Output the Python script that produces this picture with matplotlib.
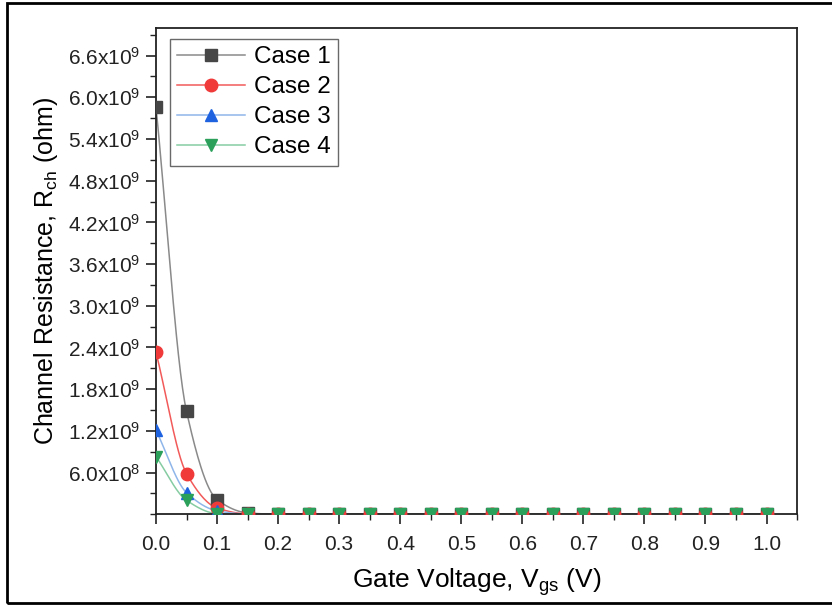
import numpy as np
import matplotlib.pyplot as plt
from matplotlib.ticker import MultipleLocator, FuncFormatter
from matplotlib.patches import Rectangle

plt.rcParams['font.family'] = ['Liberation Sans', 'DejaVu Sans']
plt.rcParams['mathtext.fontset'] = 'custom'
plt.rcParams['mathtext.rm'] = 'Liberation Sans'
plt.rcParams['mathtext.it'] = 'Liberation Sans'

vgs = [0.0, 0.05, 0.1, 0.15, 0.2, 0.25, 0.3, 0.35, 0.4, 0.45, 0.5,
       0.55, 0.6, 0.65, 0.7, 0.75, 0.8, 0.85, 0.9, 0.95, 1.0]
tail = [0.0] * 17
case1 = [5.86e9, 1.48e9, 0.21e9, 0.02e9] + tail
case2 = [2.33e9, 0.585e9, 0.09e9, 0.005e9] + tail
case3 = [1.21e9, 0.31e9, 0.05e9, 0.003e9] + tail
case4 = [0.83e9, 0.20e9, 0.01e9, 0.001e9] + tail

labels = ['Case 1', 'Case 2', 'Case 3', 'Case 4']
markers = ['s', 'o', '^', 'v']
mcolors = ['#464646', '#f03a3a', '#1f62e0', '#2ba05a']
lcolors = ['#8a8a8a', '#f25a5a', '#8fb6ea', '#86cca2']


def pchip(x, y, xs):
    # monotone cubic Hermite curve through the points
    x = np.asarray(x, float)
    y = np.asarray(y, float)
    h = np.diff(x)
    d = np.diff(y) / h
    m = np.zeros_like(y)
    for k in range(1, len(y) - 1):
        if d[k - 1] * d[k] > 0:
            w1 = 2 * h[k] + h[k - 1]
            w2 = h[k] + 2 * h[k - 1]
            m[k] = (w1 + w2) / (w1 / d[k - 1] + w2 / d[k])
    m[0] = d[0]
    m[-1] = d[-1]
    idx = np.clip(np.searchsorted(x, xs) - 1, 0, len(h) - 1)
    t = (xs - x[idx]) / h[idx]
    h00 = 2 * t**3 - 3 * t**2 + 1
    h10 = t**3 - 2 * t**2 + t
    h01 = -2 * t**3 + 3 * t**2
    h11 = t**3 - t**2
    return (h00 * y[idx] + h10 * h[idx] * m[idx]
            + h01 * y[idx + 1] + h11 * h[idx] * m[idx + 1])


fig = plt.figure(figsize=(8.32, 6.05), dpi=100)
ax = fig.add_axes([0.1875, 0.150, 0.7705, 0.804])

xs = np.linspace(0, 1, 600)
for ys, lab, mk, mc, lc in zip([case1, case2, case3, case4], labels,
                                markers, mcolors, lcolors):
    ax.plot(xs, pchip(vgs, ys, xs), color=lc, lw=1.1, zorder=2)
    ax.plot(vgs, ys, linestyle='none', marker=mk, color=mc, ms=9, zorder=3)
    ax.plot([], [], color=lc, lw=1.1, marker=mk, mfc=mc, mec=mc, ms=9,
            label=lab)

ax.set_xlim(0, 1.05)
ax.set_ylim(0, 7.0e9)
ax.xaxis.set_major_locator(MultipleLocator(0.1))
ax.xaxis.set_minor_locator(MultipleLocator(0.05))
ax.set_yticks([0.6e9 * k for k in range(1, 12)])
ax.yaxis.set_minor_locator(MultipleLocator(0.3e9))


def sci(v, pos):
    if v == 0:
        return ''
    e = int(np.floor(np.log10(v) + 1e-9))
    return '{:.1f}x10$^{{{}}}$'.format(v / 10**e, e)


ax.yaxis.set_major_formatter(FuncFormatter(sci))
ax.xaxis.set_major_formatter(FuncFormatter(lambda v, p: '{:.1f}'.format(v)))
ax.tick_params(which='major', direction='out', length=7, width=1.2,
               labelsize=15, colors='#222222')
ax.tick_params(which='minor', direction='out', length=4, width=1.0,
               colors='#222222')
ax.tick_params(axis='x', pad=8)
ax.tick_params(axis='y', pad=4)
for s in ax.spines.values():
    s.set_linewidth(1.3)
    s.set_color('#222222')

ax.set_xlabel('Gate Voltage, V$_{gs}$ (V)', fontsize=19, labelpad=9)
ax.set_ylabel('Channel Resistance, R$_{ch}$ (ohm)', fontsize=18,
              labelpad=6)

leg = ax.legend(loc='upper left', bbox_to_anchor=(0.022, 0.977),
                fontsize=17.5, frameon=True, fancybox=False,
                handlelength=2.8, borderpad=0.3, labelspacing=0.33,
                handletextpad=0.35, borderaxespad=0.0)
leg.get_frame().set_edgecolor('#444444')
leg.get_frame().set_linewidth(1.0)

fig.patches.append(Rectangle((7 / 832, 2 / 605), 1.1, 600 / 605,
                             transform=fig.transFigure, fill=False,
                             edgecolor='black', lw=2.0, zorder=10))

fig.savefig('out.png', dpi=100)
